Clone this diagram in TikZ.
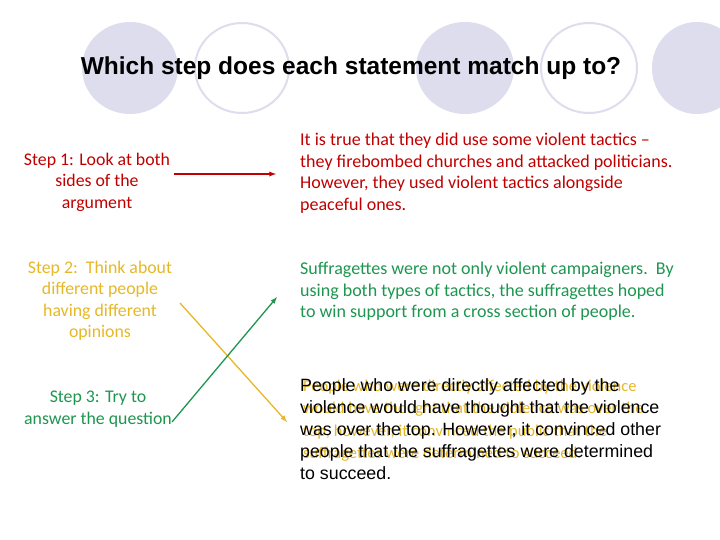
\documentclass[tikz,border=0pt]{standalone}
\usepackage{fontspec}
\setmainfont{Carlito}
\newfontfamily\arialf{Liberation Sans}
\begin{document}
\begin{tikzpicture}[x=1pt,y=-1pt,
  ello/.style={draw=lav,line width=2pt},
  lt/.style={font=\fontsize{17.8}{21.5}\selectfont,align=center,inner sep=0},
  rt/.style={font=\fontsize{18}{21.5}\selectfont,align=left,anchor=north west,inner sep=0},
  conn/.style={line width=1.3pt,-latex}]
\definecolor{lav}{RGB}{221,221,238}
\definecolor{cred}{RGB}{192,0,0}
\definecolor{cgold}{RGB}{230,184,40}
\definecolor{cgreen}{RGB}{30,150,80}
\useasboundingbox (0,0) rectangle (720,540);
\fill[white] (0,0) rectangle (720,540);
\begin{scope}
\clip (0,0) rectangle (720,540);
\fill[lav] (130,68) ellipse (48 and 46);
\draw[ello] (242,68) ellipse (47 and 45);
\fill[lav] (465,68) ellipse (49 and 46);
\draw[ello] (589,68) ellipse (48 and 45);
\fill[lav] (697,68) ellipse (45 and 46);
\end{scope}
\node[font=\arialf\bfseries\fontsize{24.5}{28}\selectfont,inner sep=0] (title) at (351,68) {Which step does each statement match up to?};
\node[lt,text=cred] (s1) at (97,182) {Step 1: Look at both\\sides of the\\argument};
\node[lt,text=cgold] (s2) at (100,301) {Step 2:\ \ Think about\\different people\\having different\\opinions};
\node[lt,text=cgreen] (s3) at (98,409) {Step 3: Try to\\answer the question};
\node[rt,text=cred] (r1) at (300,133) {It is true that they did use some violent tactics --\\they firebombed churches and attacked politicians.\\However, they used violent tactics alongside\\peaceful ones.};
\node[rt,text=cgreen] (r2) at (300,262) {Suffragettes were not only violent campaigners.\ \ By\\using both types of tactics, the suffragettes hoped\\to win support from a cross section of people.};
\node[rt,text=cgold,font=\fontsize{16.5}{22.3}\selectfont] (r3b) at (303,380) {People who were directly affected by the violence\\would have thought that the violence was over the\\top, however, it convinced the public that the\\suffragettes were determined to succeed.};
\node[rt,font=\arialf\fontsize{17.8}{22}\selectfont] (r3) at (300,378) {People who were directly affected by the\\violence would have thought that the violence\\was over the top. However, it convinced other\\people that the suffragettes were determined\\to succeed.};
\coordinate (a1) at (174,174); \coordinate (b1) at (276,174);
\coordinate (a2) at (180,303); \coordinate (b2) at (287,422);
\coordinate (a3) at (172,422); \coordinate (b3) at (277,297);
\draw[conn,cred] (a1) -- (b1);
\draw[conn,cgold] (a2) -- (b2);
\draw[conn,cgreen] (a3) -- (b3);
\end{tikzpicture}
\end{document}
